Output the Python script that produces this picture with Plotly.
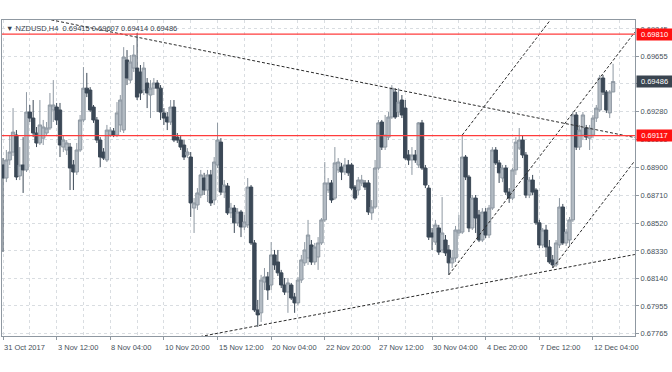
import plotly.graph_objects as go

# ---- data (NZDUSD H4 candles) ----
open_ = [
0.68917, 0.68828, 0.68951, 0.69005, 0.69121, 0.68842, 0.68917, 0.68883, 0.69278, 0.69237,
0.69135, 0.69067, 0.69100, 0.69135, 0.69169, 0.69292, 0.69312, 0.69292, 0.69039, 0.69019,
0.69039, 0.68917, 0.68869, 0.69019, 0.69224, 0.69441, 0.69428, 0.69312, 0.69224, 0.69087,
0.69005, 0.68951, 0.69121, 0.69148, 0.69121, 0.69190, 0.69155, 0.69633, 0.69496, 0.69578,
0.69578, 0.69551, 0.69428, 0.69476, 0.69394, 0.69441, 0.69476, 0.69441, 0.69272, 0.69244,
0.69210, 0.69312, 0.69107, 0.69087, 0.69053, 0.68985, 0.68971, 0.68623, 0.68644, 0.68712,
0.68828, 0.68746, 0.68849, 0.68678, 0.68917, 0.69073, 0.68732, 0.68773, 0.68590, 0.68623,
0.68522, 0.68596, 0.68494, 0.68508, 0.68766, 0.68385, 0.67928, 0.67908, 0.68118, 0.68153,
0.68098, 0.68303, 0.68255, 0.68181, 0.68098, 0.68050, 0.68098, 0.68016, 0.67976, 0.68132,
0.68249, 0.68282, 0.68371, 0.68255, 0.68289, 0.68385, 0.68542, 0.68746, 0.68794, 0.68691,
0.68883, 0.68903, 0.68869, 0.68917, 0.68917, 0.68766, 0.68746, 0.68794, 0.68794, 0.68794,
0.68590, 0.68630, 0.68896, 0.69210, 0.69039, 0.69107, 0.69244, 0.69414, 0.69278, 0.69360,
0.69305, 0.68985, 0.68951, 0.68985, 0.68917, 0.69204, 0.68896, 0.68759, 0.68453, 0.68391,
0.68487, 0.68337, 0.68405, 0.68337, 0.68249, 0.68282, 0.68453, 0.68459, 0.68971, 0.68835,
0.68487, 0.68691, 0.68576, 0.68405, 0.68596, 0.68439, 0.68623, 0.69019, 0.68931, 0.68828,
0.68896, 0.68732, 0.68691, 0.68883, 0.69032, 0.69087, 0.68985, 0.68712, 0.68814, 0.68746,
0.68522, 0.68371, 0.68473, 0.68357, 0.68269, 0.68235, 0.68371, 0.68630, 0.68385, 0.68405,
0.68542, 0.69258, 0.69039, 0.69121, 0.69169, 0.69100, 0.69121, 0.69237, 0.69292, 0.69510,
0.69414, 0.69272, 0.69415]

high = [
0.68964, 0.69019, 0.69121, 0.69305, 0.69155, 0.69039, 0.69107, 0.69414, 0.69326, 0.69360,
0.69176, 0.69360, 0.69224, 0.69210, 0.69408, 0.69496, 0.69340, 0.69340, 0.69121, 0.69087,
0.69067, 0.68951, 0.69067, 0.69258, 0.69585, 0.69545, 0.69448, 0.69326, 0.69244, 0.69107,
0.69032, 0.69190, 0.69176, 0.69169, 0.69346, 0.69394, 0.69721, 0.69701, 0.69667, 0.69735,
0.69817, 0.69599, 0.69619, 0.69510, 0.69496, 0.69510, 0.69496, 0.69462, 0.69305, 0.69278,
0.69360, 0.69360, 0.69135, 0.69114, 0.69087, 0.69032, 0.69005, 0.68691, 0.68759, 0.68883,
0.68863, 0.68883, 0.68883, 0.68971, 0.69204, 0.69100, 0.68814, 0.68794, 0.68658, 0.68644,
0.68623, 0.68610, 0.68576, 0.68828, 0.68780, 0.68405, 0.67996, 0.68167, 0.68214, 0.68187,
0.68391, 0.68337, 0.68337, 0.68201, 0.68146, 0.68146, 0.68112, 0.68044, 0.68153, 0.68303,
0.68391, 0.68542, 0.68405, 0.68385, 0.68425, 0.68555, 0.68937, 0.68828, 0.68814, 0.69039,
0.68964, 0.68931, 0.68964, 0.68951, 0.68931, 0.68780, 0.68835, 0.68849, 0.68814, 0.68814,
0.68678, 0.68951, 0.69224, 0.69224, 0.69258, 0.69278, 0.69462, 0.69441, 0.69441, 0.69394,
0.69360, 0.69019, 0.69039, 0.69019, 0.69210, 0.69224, 0.68917, 0.68780, 0.68487, 0.68542,
0.68508, 0.68698, 0.68439, 0.68371, 0.68337, 0.68501, 0.68576, 0.69121, 0.68985, 0.68849,
0.68712, 0.68712, 0.68610, 0.68623, 0.68623, 0.68644, 0.69039, 0.69039, 0.68951, 0.68917,
0.68917, 0.68759, 0.68896, 0.69107, 0.69169, 0.69121, 0.69005, 0.68835, 0.68849, 0.68759,
0.68542, 0.68487, 0.68508, 0.68405, 0.68303, 0.68405, 0.68691, 0.68651, 0.68481, 0.68562,
0.69278, 0.69278, 0.69190, 0.69278, 0.69190, 0.69190, 0.69258, 0.69326, 0.69531, 0.69531,
0.69428, 0.69428, 0.69607]

low = [
0.68323, 0.68800, 0.68917, 0.68978, 0.68814, 0.68814, 0.68726, 0.68869, 0.69210, 0.69107,
0.69039, 0.69053, 0.69053, 0.69114, 0.69155, 0.69210, 0.69190, 0.68971, 0.69005, 0.68985,
0.68746, 0.68746, 0.68849, 0.69005, 0.69210, 0.69380, 0.69278, 0.69204, 0.69067, 0.68903,
0.68951, 0.68937, 0.69107, 0.69107, 0.69107, 0.69141, 0.69135, 0.69462, 0.69476, 0.69551,
0.69360, 0.69360, 0.69394, 0.69305, 0.69237, 0.69394, 0.69278, 0.69224, 0.69190, 0.69155,
0.69190, 0.69073, 0.69067, 0.69019, 0.68951, 0.68964, 0.68562, 0.68453, 0.68610, 0.68691,
0.68712, 0.68664, 0.68637, 0.68644, 0.68896, 0.68712, 0.68691, 0.68576, 0.68555, 0.68453,
0.68501, 0.68425, 0.68473, 0.68487, 0.68371, 0.67914, 0.67812, 0.67846, 0.68064, 0.67996,
0.68064, 0.68201, 0.68160, 0.68077, 0.68030, 0.67908, 0.67996, 0.67908, 0.67962, 0.68112,
0.68228, 0.68235, 0.68235, 0.68235, 0.68201, 0.68371, 0.68528, 0.68726, 0.68658, 0.68678,
0.68863, 0.68814, 0.68849, 0.68842, 0.68746, 0.68678, 0.68712, 0.68773, 0.68746, 0.68576,
0.68542, 0.68617, 0.68883, 0.69019, 0.69019, 0.69087, 0.69231, 0.69231, 0.69244, 0.69237,
0.68951, 0.68917, 0.68849, 0.68931, 0.68896, 0.68883, 0.68759, 0.68405, 0.68337, 0.68371,
0.68303, 0.68317, 0.68296, 0.68167, 0.68214, 0.68255, 0.68432, 0.68446, 0.68814, 0.68459,
0.68473, 0.68453, 0.68391, 0.68391, 0.68418, 0.68418, 0.68610, 0.68917, 0.68794, 0.68800,
0.68712, 0.68658, 0.68678, 0.68849, 0.69019, 0.68964, 0.68691, 0.68691, 0.68712, 0.68508,
0.68350, 0.68350, 0.68289, 0.68242, 0.68214, 0.68221, 0.68350, 0.68371, 0.68364, 0.68364,
0.68528, 0.69019, 0.69019, 0.69087, 0.69087, 0.69019, 0.69100, 0.69210, 0.69278, 0.69394,
0.69272, 0.69237, 0.69414]

close = [
0.68828, 0.68951, 0.69005, 0.69141, 0.68835, 0.68917, 0.68883, 0.69278, 0.69237, 0.69135,
0.69067, 0.69190, 0.69176, 0.69169, 0.69326, 0.69326, 0.69224, 0.69053, 0.69087, 0.69067,
0.68896, 0.68869, 0.69019, 0.69224, 0.69441, 0.69408, 0.69292, 0.69224, 0.69087, 0.68971,
0.68964, 0.69155, 0.69155, 0.69121, 0.69272, 0.69360, 0.69653, 0.69510, 0.69619, 0.69667,
0.69380, 0.69408, 0.69578, 0.69408, 0.69441, 0.69476, 0.69441, 0.69278, 0.69237, 0.69210,
0.69312, 0.69087, 0.69087, 0.69039, 0.68971, 0.69005, 0.68658, 0.68658, 0.68726, 0.68849,
0.68746, 0.68849, 0.68658, 0.68937, 0.69087, 0.68732, 0.68780, 0.68590, 0.68623, 0.68522,
0.68596, 0.68494, 0.68528, 0.68766, 0.68385, 0.67928, 0.67894, 0.68132, 0.68153, 0.68064,
0.68303, 0.68235, 0.68181, 0.68098, 0.68050, 0.68112, 0.68009, 0.67976, 0.68132, 0.68269,
0.68337, 0.68439, 0.68255, 0.68357, 0.68385, 0.68542, 0.68794, 0.68794, 0.68678, 0.68931,
0.68937, 0.68869, 0.68917, 0.68863, 0.68759, 0.68691, 0.68814, 0.68814, 0.68766, 0.68596,
0.68630, 0.68896, 0.69204, 0.69039, 0.69121, 0.69244, 0.69441, 0.69244, 0.69346, 0.69258,
0.68964, 0.68951, 0.68985, 0.68951, 0.69204, 0.68896, 0.68780, 0.68425, 0.68425, 0.68508,
0.68323, 0.68453, 0.68317, 0.68249, 0.68282, 0.68473, 0.68473, 0.68971, 0.68835, 0.68487,
0.68691, 0.68555, 0.68405, 0.68596, 0.68439, 0.68623, 0.69019, 0.68931, 0.68863, 0.68896,
0.68732, 0.68691, 0.68883, 0.69073, 0.69087, 0.68985, 0.68712, 0.68814, 0.68732, 0.68522,
0.68371, 0.68473, 0.68357, 0.68255, 0.68235, 0.68385, 0.68630, 0.68385, 0.68459, 0.68542,
0.69258, 0.69039, 0.69155, 0.69258, 0.69107, 0.69169, 0.69237, 0.69305, 0.69510, 0.69414,
0.69292, 0.69415, 0.69486]

bars = list(range(len(close)))

symbol = "NZDUSD,H4"
tick_bars = [0, 16, 32, 48, 64, 80, 96, 112, 128, 144, 160, 176]
tick_labels = ["31 Oct 2017", "3 Nov 12:00", "8 Nov 04:00", "10 Nov 20:00",
               "15 Nov 12:00", "20 Nov 04:00", "22 Nov 20:00", "27 Nov 12:00",
               "30 Nov 04:00", "4 Dec 20:00", "7 Dec 12:00", "12 Dec 04:00"]
price_ticks = [0.69845, 0.69655, 0.69470, 0.69280, 0.69090, 0.68900,
               0.68710, 0.68520, 0.68330, 0.68140, 0.67955, 0.67765]
# 0.69470 sits fully behind the current-price tag, so its label is not shown
price_tick_text = ["0.69845", "0.69655", "", "0.69280", "0.69090", "0.68900",
                   "0.68710", "0.68520", "0.68330", "0.68140", "0.67955", "0.67765"]
levels = [0.69810, 0.69117]

# trend lines: (bar, price) end points
trend_bars = [[10, 188.5], [50, 188.5], [133, 188.5], [137, 188.5], [164, 188.5]]
trend_prices = [[0.69927, 0.69104], [0.67708, 0.68306], [0.68167, 0.69824],
                [0.69121, 0.70659], [0.68214, 0.68946]]

x_range = [-0.3, 188.54]
y_range = [0.67750, 0.69906]

FONT = "Liberation Sans, Arial, sans-serif"
TXT = "#46505a"
AX = "#8f98a1"
GRID = "#d9dde1"

fig = go.Figure()
fig.add_trace(go.Candlestick(
    x=bars, open=open_, high=high, low=low, close=close,
    increasing=dict(line=dict(color="#8e98a2", width=1), fillcolor="#b3bbc3"),
    decreasing=dict(line=dict(color="#3b4856", width=1), fillcolor="#3b4856"),
    whiskerwidth=0, hoverinfo="skip", showlegend=False))

for bx, py in zip(trend_bars, trend_prices):
    fig.add_trace(go.Scatter(x=bx, y=py, mode="lines",
                             line=dict(color="#2b2b2b", width=1, dash="3px,2px"),
                             hoverinfo="skip", showlegend=False))

shapes = []
for lv in levels:
    shapes.append(dict(type="line", xref="paper", x0=0, x1=1, yref="y", y0=lv, y1=lv,
                       line=dict(color="#ff3c3c", width=1.3), layer="above"))

ann = []
for b, lab in zip(tick_bars, tick_labels):
    ann.append(dict(x=b, xref="x", y=0, yref="paper", yanchor="top", xanchor="left",
                    yshift=-5, xshift=-1, text=lab, showarrow=False,
                    font=dict(family=FONT, size=7.5, color=TXT)))
for lv in levels:
    ann.append(dict(x=1, xref="paper", xanchor="left", xshift=1, y=lv, yref="y",
                    text=f"{lv:.5f}", showarrow=False, bgcolor="#ff1010",
                    width=33, height=9, borderpad=1,
                    font=dict(family=FONT, size=7.5, color="white")))
ann.append(dict(x=1, xref="paper", xanchor="left", xshift=1, y=close[-1], yref="y",
                text=f"{close[-1]:.5f}", showarrow=False, bgcolor="#3a4550",
                width=33, height=9, borderpad=1,
                font=dict(family=FONT, size=7.5, color="white")))
ann.append(dict(x=0, xref="paper", y=1, yref="paper", xanchor="left", yanchor="top",
                xshift=2, yshift=-2, showarrow=False,
                text=f"▼ {symbol}  {open_[-1]:.5f} {high[-1]:.5f} {low[-1]:.5f} {close[-1]:.5f}",
                font=dict(family=FONT, size=7.5, color="#39424c")))

fig.update_layout(
    width=672, height=372,
    margin=dict(l=2, r=37, t=20, b=36),
    paper_bgcolor="white", plot_bgcolor="white",
    showlegend=False, hovermode=False,
    boxgap=0.0, boxgroupgap=0,
    shapes=shapes, annotations=ann,
    xaxis=dict(range=x_range, rangeslider=dict(visible=False),
               tickmode="array", tickvals=tick_bars, ticktext=[""] * len(tick_bars),
               ticks="outside", ticklen=3, tickcolor=AX,
               showgrid=True, gridcolor=GRID, griddash="3px,3px", gridwidth=1,
               minor=dict(tickmode="linear", tick0=0, dtick=8, showgrid=True,
                          gridcolor=GRID, griddash="3px,3px", ticks=""),
               showline=True, linecolor=AX, linewidth=1, mirror=True, zeroline=False,
               automargin=False),
    yaxis=dict(range=y_range, side="right",
               tickmode="array", tickvals=price_ticks, ticktext=price_tick_text,
               tickfont=dict(family=FONT, size=7.5, color=TXT),
               ticks="outside", ticklen=3, tickcolor=AX,
               showgrid=True, gridcolor=GRID, griddash="3px,3px", gridwidth=1,
               showline=True, linecolor=AX, linewidth=1, mirror=True, zeroline=False,
               automargin=False),
)

fig.write_html("out.html", config={"displayModeBar": False},
               post_script="document.body.style.margin='0px';document.body.style.overflow='hidden';")
